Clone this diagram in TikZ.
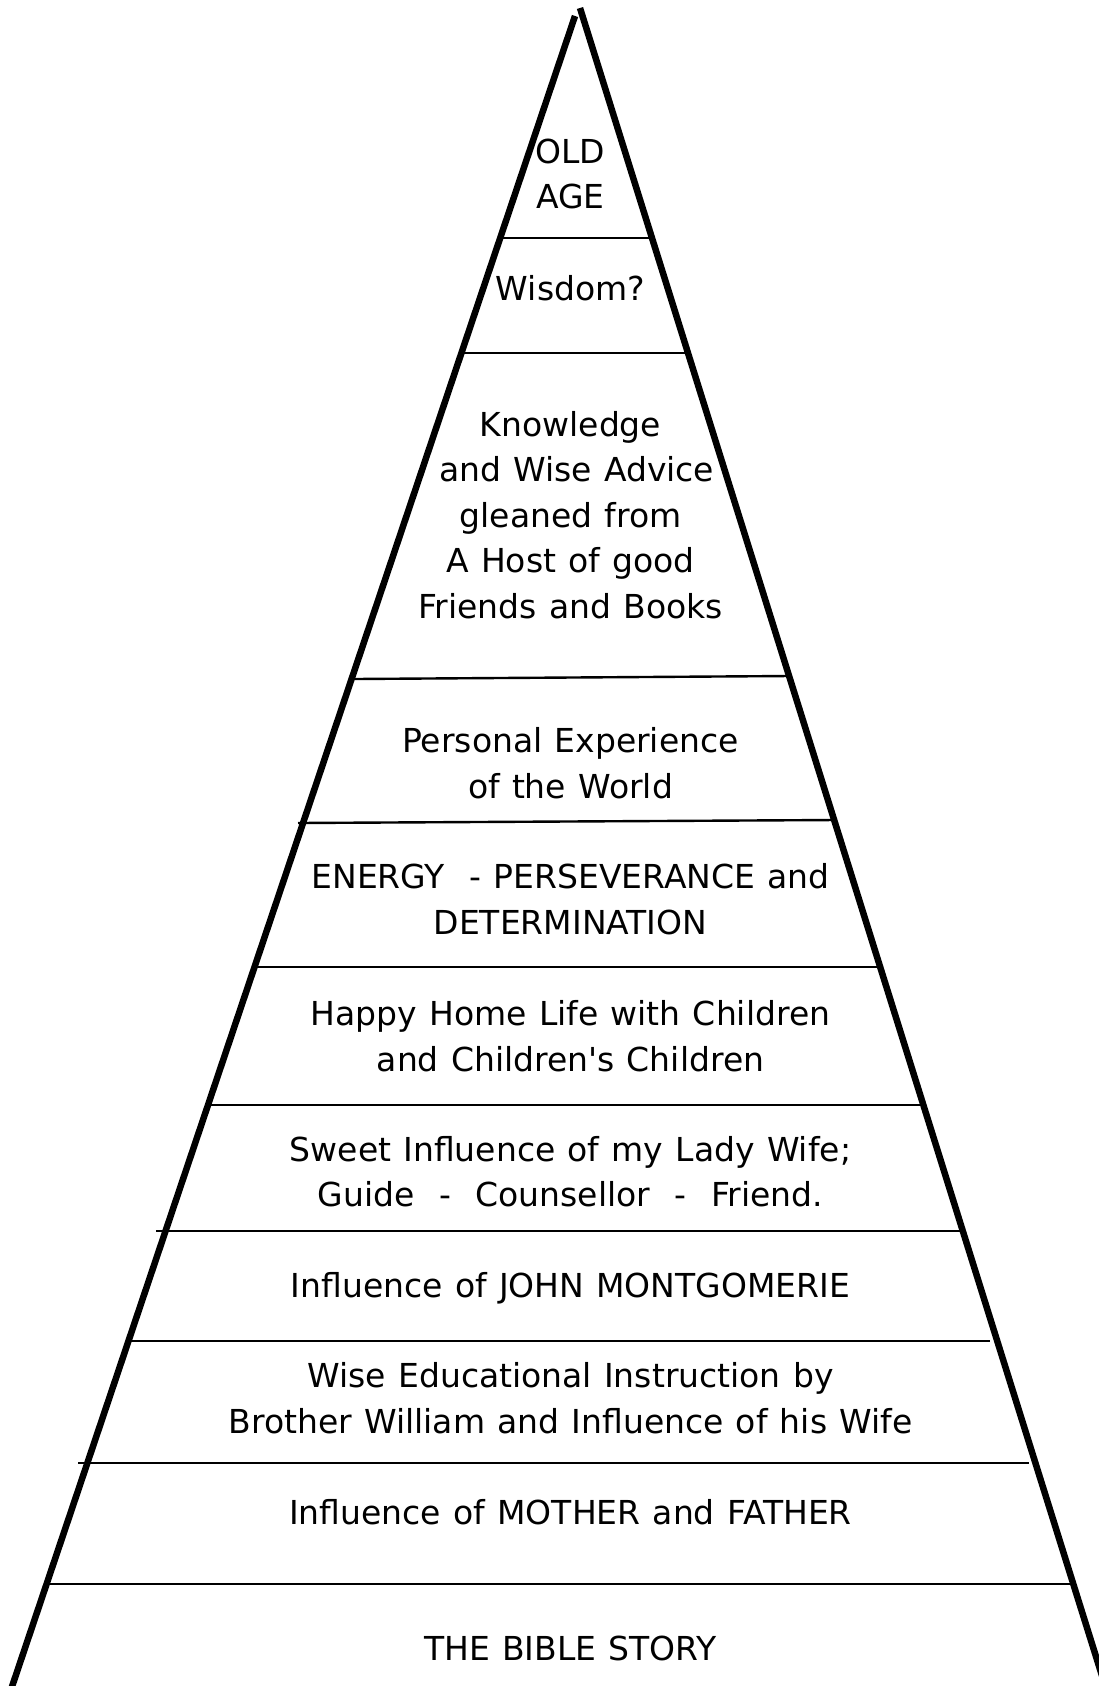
\documentclass[tikz,border=0pt]{standalone}
\usepackage{fontspec}
\setmainfont{DejaVu Sans}
\newcommand\lblfont{\fontsize{33}{45.5}\selectfont\setlength{\spaceskip}{0.37em}}
\begin{document}
\tikzset{
  side/.style={line width=6.5pt, line cap=butt},
  tier/.style={line width=2.4pt},
  lbl/.style={font=\lblfont, align=center, inner sep=0pt, anchor=center},
}
\begin{tikzpicture}[x=1pt,y=-1pt]
\clip (0,0) rectangle (1099,1686);
% corner points of the two sides
\coordinate (apexL) at (575,16);
\coordinate (apexR) at (580,8);
\coordinate (baseL) at (7.5,1700);
\coordinate (baseR) at (1109.6,1700);
% tier separators
\draw[tier] (502,238) -- (650,238);
\draw[tier] (460,353) -- (686,353);
\draw[tier] (355,679) -- (790,676);
\draw[tier] (298,823) -- (836,820);
\draw[tier] (256,967) -- (879,967);
\draw[tier] (209,1105) -- (920,1105);
\draw[tier] (156,1231) -- (960,1231);
\draw[tier] (130,1341) -- (990,1341);
\draw[tier] (78,1463) -- (1029,1463);
\draw[tier] (48,1584) -- (1070,1584);
% sides
\draw[side] (apexL) -- (baseL);
\draw[side] (apexR) -- (baseR);
% labels
\node[lbl] (t1) at (570.5,177) {\strut OLD\\AGE\strut};
\node[lbl] (t2) at (570.5,291) {\strut Wisdom?};
\node[lbl] (t3) at (570.5,518) {\strut Knowledge\\\hspace*{0.37em}and Wise Advice\\gleaned from\\A Host of good\\Friends and Books\strut};
\node[lbl] (t4) at (570.5,766.5) {\strut Personal Experience\\of the World\strut};
\node[lbl] (t5) at (570.5,902.5) {\strut ENERGY\ \ - PERSEVERANCE and\\DETERMINATION\strut};
\node[lbl] (t6) at (570.5,1039.6) {\strut Happy Home Life with Children\\and Children\textquotesingle s Children\strut};
\node[lbl] (t7) at (570.5,1175) {\strut Sweet Influence of my Lady Wife;\\Guide\ \ -\ \ Counsellor\ \ -\ \ Friend.\strut};
\node[lbl] (t8) at (570.5,1288) {\strut Influence of JOHN MONTGOMERIE};
\node[lbl] (t9) at (570.5,1401.4) {\strut Wise Educational Instruction by\\Brother William and Influence of his Wife\strut};
\node[lbl] (t10) at (570.5,1515) {\strut Influence of MOTHER and FATHER};
\node[lbl] (t11) at (570.5,1651) {\strut THE BIBLE STORY};
\end{tikzpicture}
\end{document}
